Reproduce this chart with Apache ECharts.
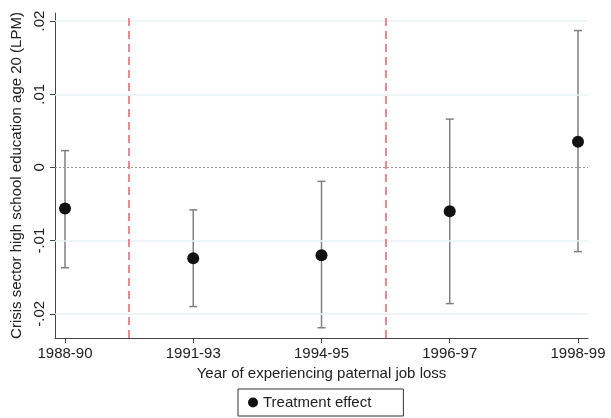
<!DOCTYPE html>
<html>
<head>
<meta charset="utf-8">
<script src="https://cdn.jsdelivr.net/npm/echarts@6/dist/echarts.min.js"></script>
<style>html,body{margin:0;padding:0;background:#fff}#c{width:611px;height:418px}</style>
</head>
<body>
<div id="c"></div>
<script>
const categories = ['1988-90', '1991-93', '1994-95', '1996-97', '1998-99'];
const estimates = [-0.0056, -0.0124, -0.0120, -0.0060, 0.0035];
const ciLow = [-0.0137, -0.0190, -0.0219, -0.0186, -0.0115];
const ciHigh = [0.0023, -0.0058, -0.0019, 0.0066, 0.0187];
const yTicks = [-0.02, -0.01, 0, 0.01, 0.02];
const yTickLabels = ['-.02', '-.01', '0', '.01', '.02'];
const breakLines = [0.5, 2.5];

const font = 'Liberation Sans, Arial, sans-serif';
const chart = echarts.init(document.getElementById('c'));
const xIdx = categories.map((_, i) => i);

chart.setOption({
  animation: false,
  grid: { left: 55, right: 23, top: 13, bottom: 80 },
  xAxis: {
    type: 'value', min: -0.078, max: 4.078,
    name: 'Year of experiencing paternal job loss',
    nameLocation: 'middle', nameGap: 27,
    nameTextStyle: { color: '#222', fontSize: 15, fontFamily: font },
    axisLine: { show: true, onZero: false, lineStyle: { color: '#444', width: 1 } },
    axisTick: { show: true, customValues: xIdx, length: 5, lineStyle: { color: '#444' } },
    axisLabel: { customValues: xIdx, color: '#222', fontSize: 15, fontFamily: font, margin: 8,
      formatter: v => categories[Math.round(v)] },
    splitLine: { show: false }
  },
  yAxis: {
    type: 'value', min: -0.0233, max: 0.0211,
    name: 'Crisis sector high school education age 20 (LPM)',
    nameLocation: 'middle', nameGap: 26, nameRotate: 90,
    nameTextStyle: { color: '#222', fontSize: 15, fontFamily: font },
    axisLine: { show: true, onZero: false, lineStyle: { color: '#444', width: 1 } },
    axisTick: { show: true, customValues: yTicks, length: 5, lineStyle: { color: '#444' } },
    axisLabel: { customValues: yTicks, rotate: 90, color: '#222', fontSize: 15, fontFamily: font, margin: 8,
      formatter: v => yTickLabels[yTicks.findIndex(t => Math.abs(t - v) < 1e-9)] },
    splitLine: { show: false }
  },
  legend: {
    bottom: 2, left: 238, itemGap: 5,
    data: [{ name: 'Treatment effect', icon: 'circle', itemStyle: { color: '#111', opacity: 1 } }],
    itemWidth: 10, itemHeight: 10,
    borderColor: '#333', borderWidth: 1, padding: [6, 32, 6, 10],
    textStyle: { color: '#222', fontSize: 15, fontFamily: font }
  },
  series: [
    {
      type: 'line', data: [], silent: true,
      markLine: {
        symbol: 'none', silent: true, label: { show: false },
        data: yTicks.filter(t => t !== 0).map(t => ({ yAxis: t, lineStyle: { color: '#eaf1f3', type: 'solid', width: 1.5 } }))
          .concat([{ yAxis: 0, lineStyle: { color: '#999', type: [2, 2], width: 1 } }])
          .concat(breakLines.map(x => ({ xAxis: x, lineStyle: { color: '#f0606a', type: [8, 5], width: 1.5 } })))
      }
    },
    {
      type: 'custom', silent: true,
      data: xIdx.map(i => [i, ciLow[i], ciHigh[i]]),
      renderItem: (params, api) => {
        const lo = api.coord([api.value(0), api.value(1)]);
        const hi = api.coord([api.value(0), api.value(2)]);
        const style = { stroke: '#808080', lineWidth: 1.5 };
        return { type: 'group', children: [
          { type: 'line', shape: { x1: lo[0], y1: lo[1], x2: hi[0], y2: hi[1] }, style },
          { type: 'line', shape: { x1: lo[0] - 4, y1: lo[1], x2: lo[0] + 4, y2: lo[1] }, style },
          { type: 'line', shape: { x1: hi[0] - 4, y1: hi[1], x2: hi[0] + 4, y2: hi[1] }, style }
        ]};
      }
    },
    {
      name: 'Treatment effect', type: 'scatter', symbol: 'circle', symbolSize: 12,
      itemStyle: { color: '#111', opacity: 1 },
      data: xIdx.map(i => [i, estimates[i]])
    }
  ]
});
</script>
</body>
</html>
